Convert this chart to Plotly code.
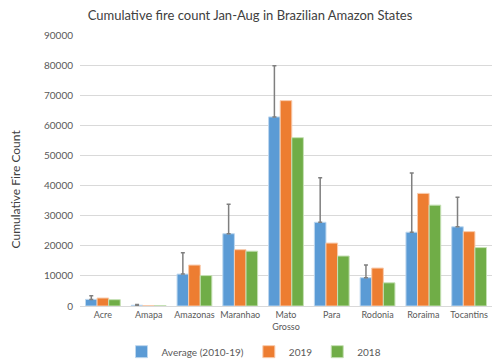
import plotly.graph_objects as go

states = ["Acre", "Amapa", "Amazonas", "Maranhao", "Mato<br>Grosso", "Para", "Rodonia", "Roraima", "Tocantins"]
avg_2010_19 = [2200, 250, 10600, 24000, 62800, 27800, 9400, 24500, 26300]
avg_err_top = [3400, 500, 17700, 33800, 79800, 42600, 13600, 44200, 36100]
fires_2019 = [2650, 150, 13600, 18700, 68200, 20900, 12600, 37400, 24700]
fires_2018 = [2100, 150, 10100, 18200, 55900, 16600, 7700, 33500, 19400]

err_plus = [t - v for t, v in zip(avg_err_top, avg_2010_19)]

font_family = "Lato, 'Open Sans', sans-serif"

fig = go.Figure()
fig.add_trace(go.Bar(
    name="Average (2010-19)", x=states, y=avg_2010_19,
    marker=dict(color="#5B9BD5", line=dict(color="#BDD7EE", width=1)),
    error_y=dict(type="data", array=err_plus, arrayminus=[0]*len(err_plus), symmetric=False,
                 color="#7F7F7F", thickness=1.5, width=2),
))
fig.add_trace(go.Bar(
    name="2019", x=states, y=fires_2019,
    marker=dict(color="#ED7D31", line=dict(color="#F8CBAD", width=1)),
))
fig.add_trace(go.Bar(
    name="2018", x=states, y=fires_2018,
    marker=dict(color="#70AD47", line=dict(color="#C5E0B4", width=1)),
))

fig.update_layout(
    width=500, height=361,
    margin=dict(l=80, r=8, t=35, b=55, autoexpand=False),
    paper_bgcolor="white", plot_bgcolor="white",
    barmode="group", bargap=0.24, bargroupgap=0,
    font=dict(family=font_family, color="#595959", size=10),
    title=dict(text="Cumulative fire count Jan-Aug in Brazilian Amazon States",
               x=0.5, xanchor="center", y=1 - 15/361, yanchor="middle",
               font=dict(size=13, color="#404040")),
    showlegend=True,
    legend=dict(orientation="h", x=(254-80)/412, xanchor="center", y=-0.115, yanchor="top",
                font=dict(size=10, color="#595959"), itemwidth=30,
                traceorder="normal"),
    annotations=[dict(text="Cumulative Fire Count", xref="paper", yref="paper",
                      x=(15-80)/412, y=0.43, xanchor="center", yanchor="middle",
                      textangle=-90, showarrow=False,
                      font=dict(size=12, color="#404040"))],
)
fig.update_yaxes(range=[0, 90000], dtick=10000, tickformat="d",
                 showgrid=True, gridcolor="#D9D9D9", gridwidth=1,
                 zeroline=False, showline=False, ticks="", automargin=False,
                 ticklabelstandoff=6,
                 tickfont=dict(size=10, color="#595959"))
fig.update_xaxes(showline=True, linecolor="#D9D9D9", linewidth=1, ticks="", automargin=False,
                 tickfont=dict(size=9, color="#595959"))

fig.write_html("out.html", config={"displayModeBar": False},
               post_script="document.body.style.margin='0';")
